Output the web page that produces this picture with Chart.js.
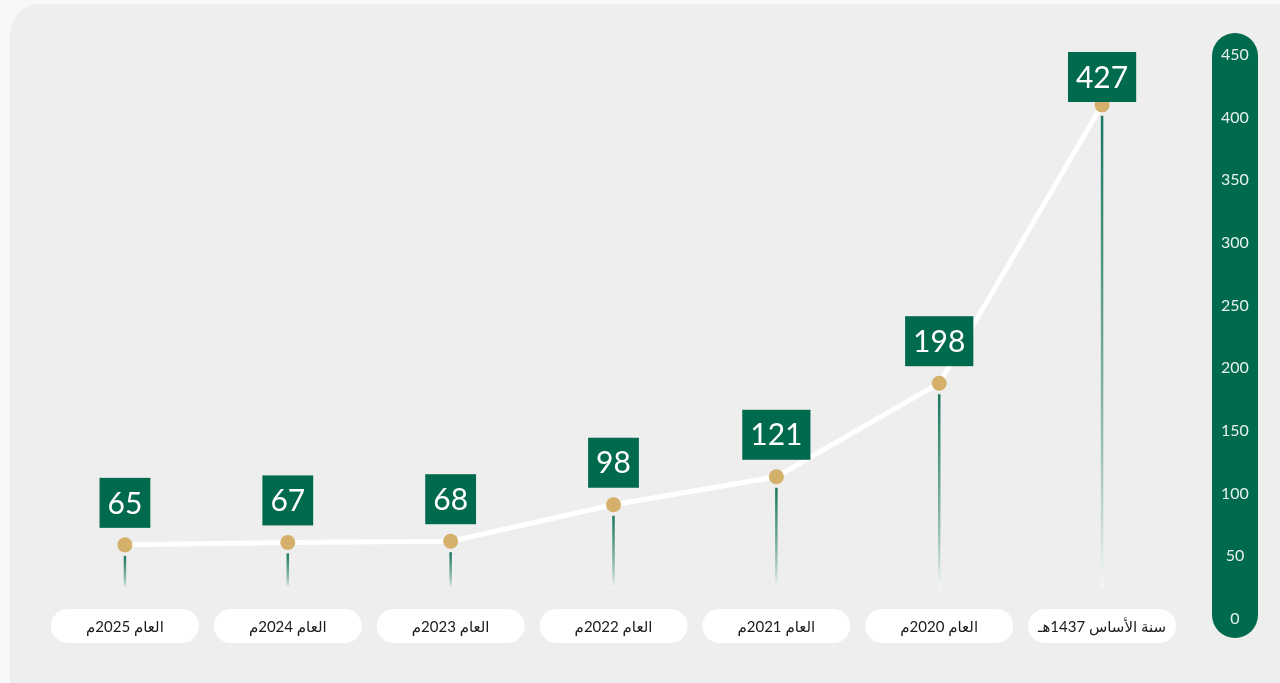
<!DOCTYPE html>
<html lang="ar">
<head>
<meta charset="utf-8">
<title>Chart</title>
<script src="https://cdn.jsdelivr.net/npm/chart.js@4.4.1/dist/chart.umd.min.js"></script>
<style>
  html, body { margin: 0; padding: 0; background: #f8f8f8; overflow: hidden; }
  #panel { position: absolute; left: 10px; top: 4px; width: 1320px; height: 720px; background: #eeeeee; border-radius: 30px; }
  #wrap { position: absolute; left: 0; top: 0; width: 1280px; height: 683px; }
</style>
</head>
<body>
<div id="panel"></div>
<div id="wrap"><canvas id="growthChart"></canvas></div>
<script>
// Data (right-to-left: base year first)
const categories = ['سنة الأساس 1437هـ', 'العام 2020م', 'العام 2021م', 'العام 2022م', 'العام 2023م', 'العام 2024م', 'العام 2025م'];
const values = [427, 198, 121, 98, 68, 67, 65];
const axisMin = 0;
const axisMax = 450;
const axisStep = 50;

const GREEN = '#006a4f';
const GOLD = '#d4b06a';

function roundRect(ctx, x, y, w, h, r) {
    ctx.beginPath();
    ctx.moveTo(x + r, y);
    ctx.arcTo(x + w, y, x + w, y + h, r);
    ctx.arcTo(x + w, y + h, x, y + h, r);
    ctx.arcTo(x, y + h, x, y, r);
    ctx.arcTo(x, y, x + w, y, r);
    ctx.closePath();
}

// Green pill behind the right axis, stems under the points, value boxes and category pills
const backdropPlugin = {
    id: 'backdrop',
    beforeDraw(chart) {
        const ctx = chart.ctx;
        const ys = chart.scales.y;
        const cx = chart.chartArea.right + 51.5;
        const top = ys.getPixelForValue(axisMax) - 22;
        const bottom = ys.getPixelForValue(axisMin) + 19;
        ctx.save();
        ctx.fillStyle = GREEN;
        roundRect(ctx, cx - 23, top, 46, bottom - top, 23);
        ctx.fill();
        ctx.restore();
    },
    beforeDatasetsDraw(chart) {
        const ctx = chart.ctx;
        const meta = chart.getDatasetMeta(0);
        const yEnd = chart.chartArea.bottom - 30;
        ctx.save();
        meta.data.forEach(pt => {
            const yStart = pt.y + 11;
            const grad = ctx.createLinearGradient(0, yStart, 0, yEnd);
            grad.addColorStop(0, 'rgba(0,106,79,0.9)');
            grad.addColorStop(0.6, 'rgba(0,106,79,0.45)');
            grad.addColorStop(1, 'rgba(255,255,255,0.6)');
            ctx.strokeStyle = grad;
            ctx.lineWidth = 2.5;
            ctx.beginPath();
            ctx.moveTo(pt.x, yStart);
            ctx.lineTo(pt.x, yEnd);
            ctx.stroke();
        });
        ctx.restore();
    },
    afterDraw(chart) {
        const ctx = chart.ctx;
        const meta = chart.getDatasetMeta(0);
        const area = chart.chartArea;
        ctx.save();
        // value boxes
        ctx.font = '30px Lato, "DejaVu Sans", sans-serif';
        ctx.textAlign = 'center';
        ctx.textBaseline = 'middle';
        meta.data.forEach((pt, i) => {
            const txt = String(values[i]);
            const w = ctx.measureText(txt).width + 16;
            const h = 50;
            let top = pt.y - 17 - h;
            if (top < area.top - 3) top = area.top - 3;
            ctx.fillStyle = GREEN;
            ctx.fillRect(pt.x - w / 2, top, w, h);
            ctx.fillStyle = '#ffffff';
            ctx.fillText(txt, pt.x, top + h / 2 + 1);
        });
        // category pills
        ctx.font = '15px Lato, "DejaVu Sans", sans-serif';
        ctx.direction = 'rtl';
        const xs = chart.scales.x;
        categories.forEach((label, i) => {
            const cx = xs.getPixelForValue(i);
            const cy = area.bottom + 7;
            ctx.fillStyle = '#ffffff';
            roundRect(ctx, cx - 74, cy - 17, 148, 34, 17);
            ctx.fill();
            ctx.fillStyle = '#1a1a1a';
            ctx.fillText(label, cx, cy + 1);
        });
        ctx.restore();
    }
};

const ctx = document.getElementById('growthChart').getContext('2d');
new Chart(ctx, {
    type: 'line',
    data: {
        labels: categories,
        datasets: [{
            data: values,
            yAxisID: 'yv',
            borderColor: '#ffffff',
            borderWidth: 5,
            tension: 0,
            pointRadius: 7.5,
            pointBackgroundColor: GOLD,
            pointBorderWidth: 0,
            pointHoverRadius: 7.5
        }]
    },
    options: {
        responsive: true,
        maintainAspectRatio: false,
        animation: false,
        layout: { padding: { left: 43.5, right: 0, top: 55, bottom: 64 } },
        plugins: { legend: { display: false }, tooltip: { enabled: false } },
        scales: {
            x: { type: 'category', reverse: true, offset: true, display: false },
            yv: { display: false, min: 4, max: 468 },
            y: {
                position: 'right',
                min: axisMin,
                max: axisMax,
                grid: { display: false },
                border: { display: false },
                afterFit(scale) { scale.width = 96.5; },
                ticks: {
                    stepSize: axisStep,
                    crossAlign: 'center',
                    padding: 29.5,
                    color: '#e8f1ec',
                    font: { family: 'Lato', size: 16 }
                }
            }
        }
    },
    plugins: [backdropPlugin]
});
</script>
</body>
</html>
